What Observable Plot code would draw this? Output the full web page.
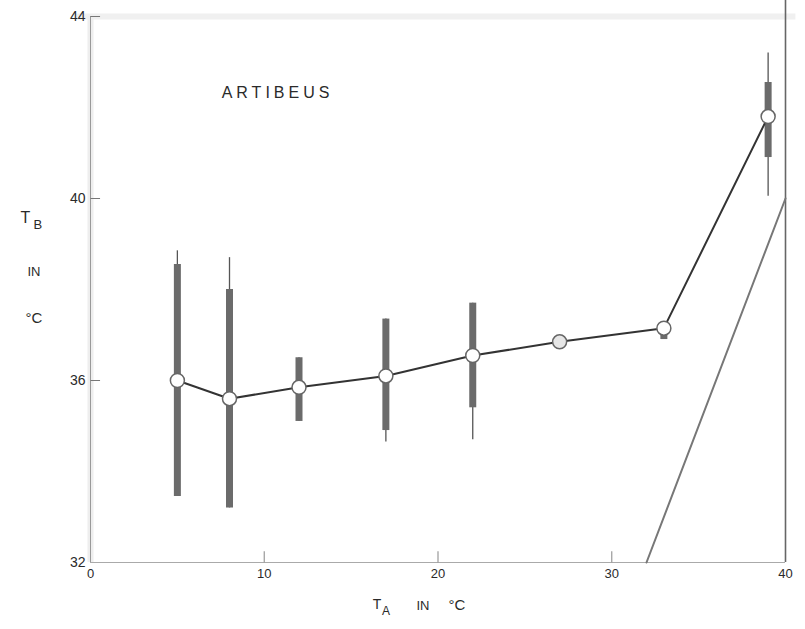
<!DOCTYPE html>
<html><head><meta charset="utf-8">
<script src="https://cdn.jsdelivr.net/npm/d3@7"></script>
<script src="https://cdn.jsdelivr.net/npm/@observablehq/plot@0.6"></script>
<style>body{margin:0;background:#fff;overflow:hidden}</style>
</head><body><div id="chart"></div>
<script>
// Ambient temperature (T_A, °C) and body temperature (T_B, °C) of Artibeus
const ta        = [5,     8,     12,    17,    22,    27,    33,    39];
const tbMean    = [36.0,  35.6,  35.85, 36.1,  36.55, 36.85, 37.15, 41.8];
const barLow    = [33.45, 33.2,  35.1,  34.9,  35.4,  null,  36.9,  40.9];
const barHigh   = [38.55, 38.0,  36.5,  37.35, 37.7,  null,  37.15, 42.55];
const rangeLow  = [33.45, 33.2,  35.1,  34.65, 34.7,  null,  36.9,  40.05];
const rangeHigh = [38.85, 38.7,  36.5,  37.35, 37.7,  null,  37.15, 43.2];
const identityT = [32, 40];          // line T_B = T_A
const xTicks = [0, 10, 20, 30, 40];
const yTicks = [32, 36, 40, 44];
const yInnerTicks = [36, 40, 44];
const xInnerTicks = [10, 20, 30];

const rows = ta.map((x, i) => ({x, y: tbMean[i], lo: barLow[i], hi: barHigh[i], rlo: rangeLow[i], rhi: rangeHigh[i]}));
const bars = rows.filter(d => d.lo != null);
const idRows = identityT.map(v => ({x: v, y: v}));

const font = "Liberation Sans, Arial, sans-serif";
const ink = "#2a2a2a";

const chart = Plot.plot({
  width: 805, height: 629,
  marginLeft: 90, marginRight: 20, marginTop: 16, marginBottom: 67,
  style: {fontFamily: font, background: "white", color: ink},
  x: {domain: [0, 40]},
  y: {domain: [32, 44]},
  marks: [
    // frame pieces
    Plot.ruleY([44], {x1: -0.8, x2: 40.6, stroke: "#f0f0f0", strokeWidth: 6}),
    Plot.ruleX([0], {y1: 32, y2: 44, stroke: "#eeeeee", strokeWidth: 6}),
    Plot.ruleX([0], {y1: 32, y2: 44, stroke: "#999", strokeWidth: 1}),
    Plot.ruleY([32], {x1: 0, x2: 40, stroke: "#aaa", strokeWidth: 1.2}),
    Plot.ruleX([40], {y1: 32, y2: 44.35, stroke: "#666", strokeWidth: 1.6}),
    // inward ticks
    Plot.link(yInnerTicks, {x1: 0, x2: 0.55, y1: d => d, y2: d => d, stroke: "#777", strokeWidth: 1}),
    Plot.link(xInnerTicks, {x1: d => d, x2: d => d, y1: 32, y2: 32.25, stroke: "#999", strokeWidth: 1.2}),
    // identity line
    Plot.line(idRows, {x: "x", y: "y", stroke: "#777", strokeWidth: 2}),
    // ranges
    Plot.ruleX(bars, {x: "x", y1: "rlo", y2: "rhi", stroke: "#555", strokeWidth: 1.3}),
    Plot.ruleX(bars, {x: "x", y1: "lo", y2: "hi", stroke: "#6b6b6b", strokeWidth: 7}),
    // mean line
    Plot.line(rows, {x: "x", y: "y", stroke: "#333", strokeWidth: 2}),
    Plot.dot(rows, {x: "x", y: "y", r: 7, fill: d => d.lo == null ? "#e6e6e6" : "white", stroke: "#666", strokeWidth: 1.5}),
    // axes
    Plot.axisY(yTicks, {tickSize: 0, tickPadding: 5, fontSize: 14, label: null, fill: ink}),
    Plot.axisX(xTicks, {tickSize: 0, tickPadding: 6, fontSize: 13, label: null, fill: ink}),
    // title annotation
    Plot.text(["ARTIBEUS"], {x: 10.65, y: 42.32, fontSize: 16, fill: ink}),
    // y axis label
    Plot.text(["T"], {frameAnchor: "left", dx: -70, dy: -72, fontSize: 16, fill: ink}),
    Plot.text(["B"], {frameAnchor: "left", dx: -57, dy: -65, fontSize: 13, fill: ink}),
    Plot.text(["IN"], {frameAnchor: "left", dx: -63, dy: -18, fontSize: 13, fill: ink}),
    Plot.text(["°C"], {frameAnchor: "left", dx: -65, dy: 29, fontSize: 15, fill: ink}),
    // x axis label
    Plot.text(["T"], {frameAnchor: "bottom", dx: -61, dy: 46, fontSize: 14, fill: ink}),
    Plot.text(["A"], {frameAnchor: "bottom", dx: -52, dy: 52, fontSize: 12, fill: ink}),
    Plot.text(["IN"], {frameAnchor: "bottom", dx: -15, dy: 47, fontSize: 13, fill: ink}),
    Plot.text(["°C"], {frameAnchor: "bottom", dx: 19, dy: 47, fontSize: 15, fill: ink})
  ]
});
d3.select(chart).selectAll("text").filter(function() { return this.textContent === "ARTIBEUS"; })
  .attr("letter-spacing", "4px").attr("dx", "2px");
document.getElementById("chart").appendChild(chart);
</script>
</body></html>
